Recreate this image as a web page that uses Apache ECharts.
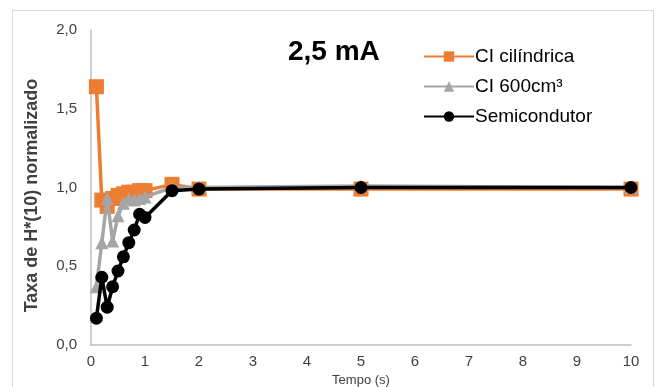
<!DOCTYPE html>
<html><head><meta charset="utf-8">
<script src="https://cdn.jsdelivr.net/npm/echarts@6/dist/echarts.min.js"></script>
<style>html,body{margin:0;padding:0;background:#fff}#c{width:660px;height:387px}</style>
</head><body><div id="c"></div>
<script>
const times = [0.1,0.2,0.3,0.4,0.5,0.6,0.7,0.8,0.9,1.0,1.5,2,5,10];
const ciCilindrica = [1.64,0.92,0.88,0.93,0.95,0.96,0.97,0.97,0.98,0.98,1.02,0.99,0.99,0.99];
const ci600 = [0.37,0.65,0.93,0.66,0.82,0.90,0.93,0.92,0.93,0.94,1.00,1.00,1.01,1.00];
const semicondutor = [0.17,0.43,0.24,0.37,0.47,0.56,0.65,0.73,0.83,0.81,0.98,0.99,1.00,1.00];
const seriesNames = ['CI cilíndrica','CI 600cm³','Semicondutor'];
const titleText = '2,5 mA';
const xName = 'Tempo (s)';
const yName = 'Taxa de H*(10) normalizado';

const pairs = arr => times.map((t,i)=>[t,arr[i]]);
const font = '"Liberation Sans",Arial,sans-serif';
const chart = echarts.init(document.getElementById('c'));
chart.setOption({
  animation:false,
  backgroundColor:'#fff',
  graphic:[{type:'rect',shape:{x:12.5,y:10.5,width:641,height:390},style:{fill:'none',stroke:'#d9d9d9',lineWidth:1}}],
  title:{text:titleText,left:283,top:33,textStyle:{fontSize:28,fontWeight:'bold',color:'#000',fontFamily:font}},
  legend:{orient:'vertical',left:418,top:42,itemGap:11,itemWidth:50,itemHeight:13,
    textStyle:{fontSize:19,color:'#000',fontFamily:font,padding:[0,0,0,-4]},
    data:seriesNames},
  grid:{left:91,right:29,top:30,bottom:42,containLabel:false,outerBoundsMode:'none'},
  xAxis:{type:'value',min:0,max:10,interval:1,name:xName,nameLocation:'middle',nameGap:29,
    nameTextStyle:{fontSize:13,color:'#404040',fontFamily:font},
    axisLine:{lineStyle:{color:'#bfbfbf',width:1.5}},axisTick:{show:false},splitLine:{show:false},
    axisLabel:{fontSize:15,color:'#404040',fontFamily:font,margin:9}},
  yAxis:{type:'value',min:0,max:2,interval:0.5,name:yName,nameLocation:'middle',nameGap:50,
    nameTextStyle:{fontSize:18,fontWeight:'bold',color:'#404040',fontFamily:font,padding:[0,0,0,-16]},
    axisLine:{show:true,lineStyle:{color:'#bfbfbf',width:1.5}},axisTick:{show:false},splitLine:{show:false},
    axisLabel:{fontSize:15,color:'#404040',fontFamily:font,margin:14,formatter:v=>v.toFixed(1).replace('.',',')}},
  series:[
    {name:seriesNames[0],type:'line',data:pairs(ciCilindrica),symbol:'rect',symbolSize:15,
      lineStyle:{color:'#ED7D31',width:3.5},itemStyle:{color:'#ED7D31'},z:2},
    {name:seriesNames[1],type:'line',data:pairs(ci600),symbol:'triangle',symbolSize:13,
      lineStyle:{color:'#A5A5A5',width:3.5},itemStyle:{color:'#A5A5A5'},z:3},
    {name:seriesNames[2],type:'line',data:pairs(semicondutor),symbol:'circle',symbolSize:13,
      lineStyle:{color:'#000',width:3.5},itemStyle:{color:'#000'},z:4}
  ]
});
</script></body></html>
